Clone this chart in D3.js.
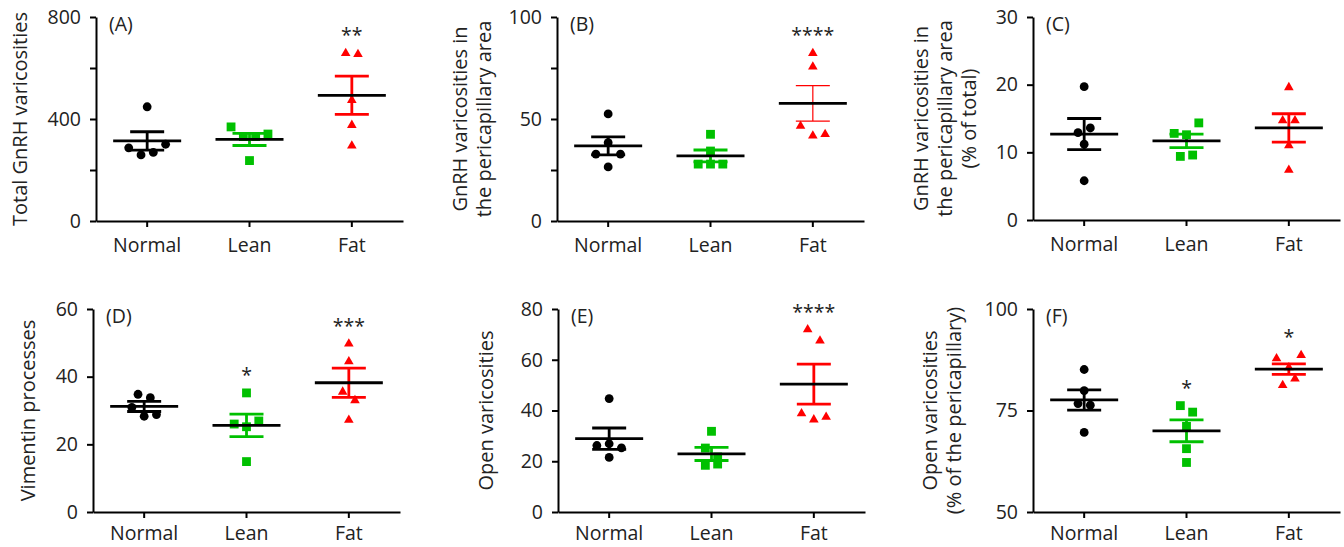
<!DOCTYPE html>
<html>
<head>
<meta charset="utf-8">
<script src="https://cdn.jsdelivr.net/npm/d3@7"></script>
<style>
  body { margin: 0; background: #fff; }
  svg { display: block; font-family: "Open Sans", sans-serif; }
</style>
</head>
<body>
<svg id="chart" width="1344" height="547"></svg>
<script>
// ---- data ----
const groups = ['Normal', 'Lean', 'Fat'];

// (A) total GnRH varicosities
const totalNormal = [287, 259, 269, 301, 448];
const totalLean = [369, 331, 331, 341, 237];
const totalFat = [658, 654, 474, 376, 295];
const totalMean = [314, 320, 493];
const totalSem = [36, 24, 75];
const totalStars = ['', '', '**'];

// (B) GnRH varicosities in the pericapillary area
const periNormal = [52.5, 32.8, 38.4, 32.8, 26.5];
const periLean = [42.5, 34.3, 27.9, 27.9, 27.9];
const periFat = [82.2, 75.6, 46.6, 41.8, 42.5];
const periMean = [36.8, 31.9, 57.7];
const periSem = [4.4, 2.9, 8.7];
const periStars = ['', '', '****'];

// (C) pericapillary as % of total
const pctNormal = [19.7, 12.9, 13.6, 11.2, 5.8];
const pctLean = [12.8, 12.6, 14.35, 9.4, 9.6];
const pctFat = [19.6, 14.7, 14.7, 11.0, 7.4];
const pctMean = [12.7, 11.7, 13.6];
const pctSem = [2.3, 1.0, 2.1];
const pctStars = ['', '', ''];

// (D) vimentin processes
const vimNormal = [34.8, 33.8, 30.9, 28.3, 28.8];
const vimLean = [35.2, 26.0, 25.2, 26.9, 14.9];
const vimFat = [49.7, 44.5, 35.5, 33.0, 27.2];
const vimMean = [31.2, 25.6, 38.2];
const vimSem = [1.5, 3.3, 4.3];
const vimStars = ['', '*', '***'];

// (E) open varicosities
const openNormal = [44.7, 26.2, 26.9, 25.3, 21.5];
const openLean = [31.8, 25.2, 21.7, 18.4, 18.9];
const openFat = [71.9, 67.5, 38.8, 36.4, 37.4];
const openMean = [28.9, 22.9, 50.4];
const openSem = [4.2, 2.6, 7.9];
const openStars = ['', '', '****'];

// (F) open varicosities, % of pericapillary
const openPctNormal = [85.1, 79.9, 76.7, 76.3, 69.6];
const openPctLean = [76.2, 74.6, 71.1, 65.6, 62.2];
const openPctFat = [87.8, 85.6, 88.6, 81.2, 82.8];
const openPctMean = [77.6, 70.0, 85.2];
const openPctSem = [2.5, 2.7, 1.3];
const openPctStars = ['', '*', '*'];

// ---- layout / style ----
const colors = ['#000000', '#00c000', '#ff0000'];
const symbols = [d3.symbolCircle, d3.symbolSquare, d3.symbolTriangle];
const symbolSizes = [61, 78, 40];
const W = 307;
const FONT = 19.5;
const TITLE_FONT = 20;

const panels = [
  { tag: '(A)', x: 96, y: 17, h: 204, domain: [0, 800], ticks: [0, 200, 400, 600, 800], labels: [0, 400, 800],
    title: ['Total GnRH varicosities'], titleX: -69, pad: 11,
    points: [totalNormal, totalLean, totalFat], mean: totalMean, sem: totalSem, stars: totalStars },
  { tag: '(B)', x: 557, y: 17, h: 204, domain: [0, 100], ticks: [0, 25, 50, 75, 100], labels: [0, 50, 100],
    title: ['GnRH varicosities in', 'the pericapillary area'], titleX: -66, thinFat: true, pad: 11,
    points: [periNormal, periLean, periFat], mean: periMean, sem: periSem, stars: periStars },
  { tag: '(C)', x: 1033, y: 17, h: 203, domain: [0, 30], ticks: [0, 10, 20, 30], labels: [0, 10, 20, 30],
    title: ['GnRH varicosities in', 'the pericapillary area', '(% of total)'], titleX: -57, pad: 11,
    points: [pctNormal, pctLean, pctFat], mean: pctMean, sem: pctSem, stars: pctStars },
  { tag: '(D)', x: 93, y: 309, h: 203, domain: [0, 60], ticks: [0, 20, 40, 60], labels: [0, 20, 40, 60],
    title: ['Vimentin processes'], titleX: -58, pad: 8,
    points: [vimNormal, vimLean, vimFat], mean: vimMean, sem: vimSem, stars: vimStars },
  { tag: '(E)', x: 558, y: 309, h: 203, domain: [0, 80], ticks: [0, 20, 40, 60, 80], labels: [0, 20, 40, 60, 80],
    title: ['Open varicosities'], titleX: -65, pad: 8,
    points: [openNormal, openLean, openFat], mean: openMean, sem: openSem, stars: openStars },
  { tag: '(F)', x: 1033, y: 309, h: 203, domain: [50, 100], ticks: [50, 75, 100], labels: [50, 75, 100],
    title: ['Open varicosities', '(% of the pericapillary)'], titleX: -72, pad: 8,
    points: [openPctNormal, openPctLean, openPctFat], mean: openPctMean, sem: openPctSem, stars: openPctStars }
];

// Prism-like scatter: points with close values share a row and are spread side by side
function swarm(values, y, step) {
  const order = values.map((v, i) => i).sort((a, b) => values[b] - values[a]);
  const offs = values.map(() => 0);
  let row = [];
  const flush = () => {
    const r = row.slice().sort((a, b) => a - b);
    r.forEach((i, k) => { offs[i] = (k - (r.length - 1) / 2) * step; });
    row = [];
  };
  order.forEach(i => {
    if (row.length && y(values[i]) - y(values[row[0]]) >= 12.5) flush();
    row.push(i);
  });
  flush();
  return offs;
}

const svg = d3.select('#chart');

panels.forEach(p => {
  const g = svg.append('g').attr('transform', `translate(${p.x},${p.y})`);
  const x = d3.scaleBand().domain(groups).range([0, W]);
  const y = d3.scaleLinear().domain(p.domain).range([p.h, 0]);

  // axes
  const yAxis = g.append('g')
    .call(d3.axisLeft(y).tickValues(p.ticks).tickSize(6).tickSizeOuter(0).tickPadding(9)
      .tickFormat(d => p.labels.includes(d) ? d : ''));
  const xAxis = g.append('g').attr('transform', `translate(0,${p.h})`)
    .call(d3.axisBottom(x).tickSize(6).tickSizeOuter(0).tickPadding(p.pad));
  [yAxis, xAxis].forEach(a => {
    a.attr('font-family', null).attr('font-size', FONT).attr('color', '#000');
    a.selectAll('path, line').attr('stroke-width', 2);
    a.selectAll('text').attr('fill', '#222');
  });

  // axis title, rotated, one text per line
  p.title.forEach((line, k) => {
    g.append('text')
      .attr('transform', 'rotate(-90)')
      .attr('x', -p.h / 2)
      .attr('y', p.titleX - (p.title.length - 1 - k) * 24)
      .attr('text-anchor', 'middle')
      .attr('font-size', TITLE_FONT).attr('fill', '#222')
      .text(line);
  });

  // panel tag
  g.append('text')
    .attr('x', 13).attr('y', 14)
    .attr('font-size', FONT).attr('fill', '#222')
    .text(p.tag);

  groups.forEach((grp, i) => {
    const vals = p.points[i];
    const cx = x(grp) + x.bandwidth() / 2;
    const offs = swarm(vals, y, 12.3);

    g.append('g').selectAll('path')
      .data(vals).join('path')
      .attr('transform', (d, k) => `translate(${cx + offs[k]},${y(d)})`)
      .attr('d', d3.symbol(symbols[i], symbolSizes[i]))
      .attr('fill', colors[i]);

    // SEM bars
    const thin = p.thinFat && i === 2;
    const sw = thin ? 1.2 : 2.8;
    const top = y(p.mean[i] + p.sem[i]);
    const bot = y(p.mean[i] - p.sem[i]);
    const bars = g.append('g').attr('stroke', colors[i]).attr('stroke-width', sw);
    bars.append('line').attr('x1', cx).attr('x2', cx).attr('y1', top).attr('y2', bot);
    [top, bot].forEach(yy => {
      bars.append('line').attr('x1', cx - 17).attr('x2', cx + 17).attr('y1', yy).attr('y2', yy);
    });

    // mean
    g.append('line')
      .attr('x1', cx - 34).attr('x2', cx + 34)
      .attr('y1', y(p.mean[i])).attr('y2', y(p.mean[i]))
      .attr('stroke', '#000').attr('stroke-width', 2.8);

    // significance
    if (p.stars[i]) {
      g.append('text')
        .attr('x', cx).attr('y', y(d3.max(vals)) - 11)
        .attr('text-anchor', 'middle')
        .attr('font-size', FONT).attr('fill', '#222')
        .text(p.stars[i]);
    }
  });
});
</script>
</body>
</html>
